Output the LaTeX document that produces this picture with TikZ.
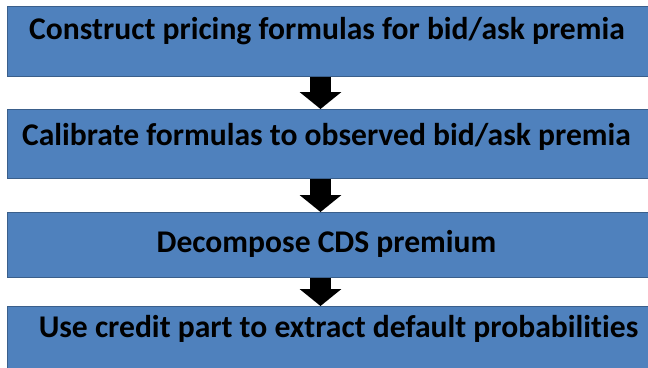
\documentclass[tikz,border=0pt]{standalone}
\usepackage{fontspec}
\setmainfont{Carlito}[Ligatures=NoCommon]
\usetikzlibrary{arrows.meta}
\definecolor{stagefill}{HTML}{4F81BD}
\definecolor{stageedge}{HTML}{3A5F8B}
\tikzset{
  stagebox/.style={draw=stageedge, line width=1pt, fill=stagefill,
    rectangle, inner sep=0pt, anchor=north west, minimum width=653pt},
  stagetext/.style={anchor=base, inner sep=0pt, text=black,
    font=\fontsize{31.6}{38}\selectfont\bfseries},
  flowarrow/.style={draw=black, line width=21pt,
    -{Triangle[width=41pt,length=17pt]}}
}
\begin{document}
\begin{tikzpicture}[x=1pt,y=-1pt]
  \useasboundingbox (0,0) rectangle (648,367);
  \clip (0,0) rectangle (648,367);
  % the four stages
  \node[stagebox, minimum height=70pt] (b1) at (7,6) {};
  \node[stagebox, minimum height=69pt] (b2) at (7,109) {};
  \node[stagebox, minimum height=65pt] (b3) at (7,212) {};
  \node[stagebox, minimum height=70pt] (b4) at (7,306) {};
  % stage captions
  \node[stagetext] (t1) at (327,39) {Construct pricing formulas for bid/ask premia};
  \node[stagetext] (t2) at (326.5,145) {Calibrate formulas to observed bid/ask premia};
  \node[stagetext] (t3) at (326.5,252) {Decompose CDS premium};
  \node[stagetext] (t4) at (338.5,337) {Use credit part to extract default probabilities};
  % block arrows between stages
  \coordinate (ax) at (320.5,0);
  \draw[flowarrow] (b1.south -| ax) -- (b2.north -| ax);
  \draw[flowarrow] (b2.south -| ax) -- (b3.north -| ax);
  \draw[flowarrow] (b3.south -| ax) -- (b4.north -| ax);
\end{tikzpicture}
\end{document}
